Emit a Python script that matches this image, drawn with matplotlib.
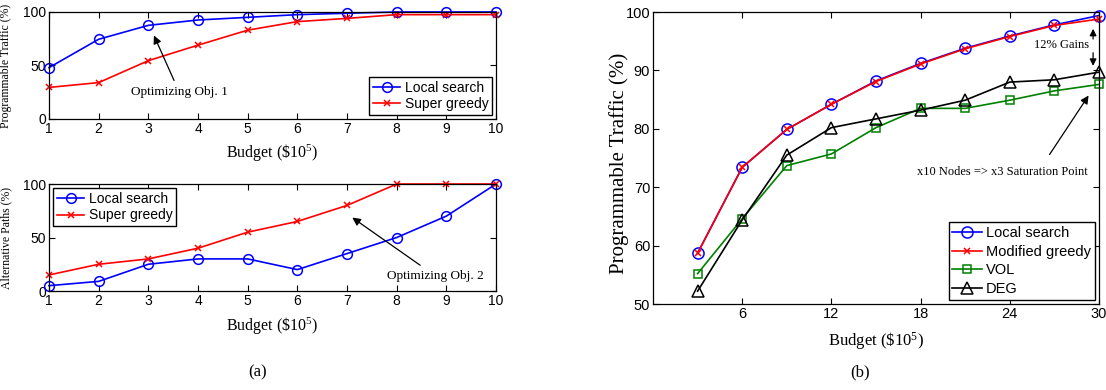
import matplotlib
matplotlib.use('Agg')
import matplotlib.pyplot as plt

plt.rcParams['font.family'] = ['Liberation Sans', 'DejaVu Sans']
plt.rcParams['mathtext.fontset'] = 'custom'
plt.rcParams['mathtext.rm'] = 'Liberation Serif'
plt.rcParams['mathtext.it'] = 'Liberation Serif:italic'
SERIF = ['Liberation Serif', 'DejaVu Serif']

# (a) top: programmable traffic vs budget
budget_a = [1, 2, 3, 4, 5, 6, 7, 8, 9, 10]
traffic_local = [48, 74.5, 87.5, 92.5, 95, 97.5, 98.8, 100, 100, 100]
traffic_super = [29.5, 34, 54.5, 69, 83, 91, 94, 97.5, 97.5, 97.5]

# (a) bottom: alternative paths vs budget
paths_local = [5, 9, 25, 30, 30, 20, 35, 50, 70, 100]
paths_super = [15, 25, 30, 40, 55, 65, 80, 100, 100, 100]

# (b): programmable traffic vs budget, four methods
budget_b = [3, 6, 9, 12, 15, 18, 21, 24, 27, 30]
b_local = [58.7, 73.4, 79.9, 84.2, 88.2, 91.2, 93.8, 95.9, 97.8, 99.4]
b_modgreedy = [58.7, 73.4, 79.9, 84.2, 88.1, 91.1, 93.7, 95.8, 97.7, 98.8]
b_vol = [55.2, 64.6, 73.7, 75.7, 80.2, 83.5, 83.5, 84.9, 86.5, 87.6]
b_deg = [52.2, 64.4, 75.5, 80.2, 81.7, 83.2, 84.9, 88.0, 88.4, 89.7]

BUDGET_LABEL = r'Budget (\$10$^5$)'

fig = plt.figure(figsize=(11.06, 3.9), dpi=100)


def style_axes(ax):
    ax.tick_params(direction='in', top=True, right=True, labelsize=10, length=4, width=0.8, pad=2)
    for s in ax.spines.values():
        s.set_linewidth(0.9)


circ = dict(marker='o', markersize=7, markerfacecolor='none', markeredgewidth=1.1, lw=1.2, clip_on=False)
cross = dict(marker='x', markersize=5, markeredgewidth=1.1, lw=1.2, clip_on=False)
leg_kw = dict(frameon=True, fancybox=False, edgecolor='black', framealpha=1,
              handlelength=2.0, handletextpad=0.3, borderpad=0.25, labelspacing=0.2)

# ---- (a) top
ax1 = fig.add_axes([0.0443, 0.6949, 0.4042, 0.2744])
ax1.plot(budget_a, traffic_local, color='blue', label='Local search', **circ)
ax1.plot(budget_a, traffic_super, color='red', label='Super greedy', **cross)
ax1.set_xlim(1, 10)
ax1.set_ylim(0, 100)
ax1.set_xticks(budget_a)
ax1.set_yticks([0, 50, 100])
style_axes(ax1)
ax1.set_xlabel(BUDGET_LABEL, family=SERIF, fontsize=11.5, labelpad=5)
ax1.set_ylabel('Programmable Traffic (%)', family=SERIF, fontsize=8.5)
ax1.yaxis.set_label_coords(-0.083, 0.5)
ax1.legend(loc='lower right', fontsize=10, borderaxespad=0.3, **leg_kw)
ax1.annotate('Optimizing Obj. 1', xy=(3.09, 80.4), xytext=(3.62, 31), family=SERIF, fontsize=9.5,
             ha='center', va='top',
             arrowprops=dict(arrowstyle='-|>', color='black', lw=0.9, mutation_scale=12))

# ---- (a) bottom
ax2 = fig.add_axes([0.0443, 0.2538, 0.4042, 0.2744])
ax2.plot(budget_a, paths_local, color='blue', label='Local search', **circ)
ax2.plot(budget_a, paths_super, color='red', label='Super greedy', **cross)
ax2.set_xlim(1, 10)
ax2.set_ylim(0, 100)
ax2.set_xticks(budget_a)
ax2.set_yticks([0, 50, 100])
style_axes(ax2)
ax2.set_xlabel(BUDGET_LABEL, family=SERIF, fontsize=11.5, labelpad=6)
ax2.set_ylabel('Alternative Paths (%)', family=SERIF, fontsize=8.5)
ax2.yaxis.set_label_coords(-0.083, 0.5)
ax2.legend(loc='upper left', fontsize=10, borderaxespad=0.3, **leg_kw)
ax2.annotate('Optimizing Obj. 2', xy=(7.06, 70.1), xytext=(8.77, 20), family=SERIF, fontsize=9.5,
             ha='center', va='top',
             arrowprops=dict(arrowstyle='-|>', color='black', lw=0.9, mutation_scale=12))

fig.text(0.2333, 0.046, '(a)', family=SERIF, fontsize=12, ha='center', va='center')

# ---- (b)
ax3 = fig.add_axes([0.5904, 0.2205, 0.4033, 0.7487])
circ_b = dict(circ, markersize=8)
ax3.plot(budget_b, b_local, color='blue', label='Local search', **circ_b)
ax3.plot(budget_b, b_modgreedy, color='red', label='Modified greedy', **cross)
ax3.plot(budget_b, b_vol, color='#008000', label='VOL', marker='s', markersize=6,
         markerfacecolor='none', markeredgewidth=1.1, lw=1.2, clip_on=False)
ax3.plot(budget_b, b_deg, color='black', label='DEG', marker='^', markersize=8,
         markerfacecolor='none', markeredgewidth=1.1, lw=1.2, clip_on=False)
ax3.set_xlim(0, 30)
ax3.set_ylim(50, 100)
ax3.set_xticks([6, 12, 18, 24, 30])
ax3.set_yticks([50, 60, 70, 80, 90, 100])
style_axes(ax3)
ax3.tick_params(labelsize=10.5)
ax3.set_xlabel(BUDGET_LABEL, family=SERIF, fontsize=12, labelpad=7)
ax3.set_ylabel('Programmable Traffic (%)', family=SERIF, fontsize=15)
ax3.yaxis.set_label_coords(-0.054, 0.48)
leg_b = dict(leg_kw, labelspacing=0.32)
ax3.legend(loc='lower right', fontsize=10.5, borderaxespad=0.3, **leg_b)
ax3.text(27.45, 94.35, '12% Gains', family=SERIF, fontsize=9, ha='center', va='center')
ax3.annotate('', xy=(29.6, 97.6), xytext=(29.6, 94.9),
             arrowprops=dict(arrowstyle='-|>', color='black', lw=0.9, mutation_scale=10))
ax3.annotate('', xy=(29.6, 90.3), xytext=(29.6, 93.5),
             arrowprops=dict(arrowstyle='-|>', color='black', lw=0.9, mutation_scale=10))
ax3.text(23.5, 72.6, 'x10 Nodes => x3 Saturation Point', family=SERIF, fontsize=9,
         ha='center', va='center')
ax3.annotate('', xy=(29.4, 86.1), xytext=(26.57, 75.2),
             arrowprops=dict(arrowstyle='-|>', color='black', lw=0.9, mutation_scale=12))

fig.text(0.7776, 0.046, '(b)', family=SERIF, fontsize=12, ha='center', va='center')

fig.savefig('out.png', dpi=100)
